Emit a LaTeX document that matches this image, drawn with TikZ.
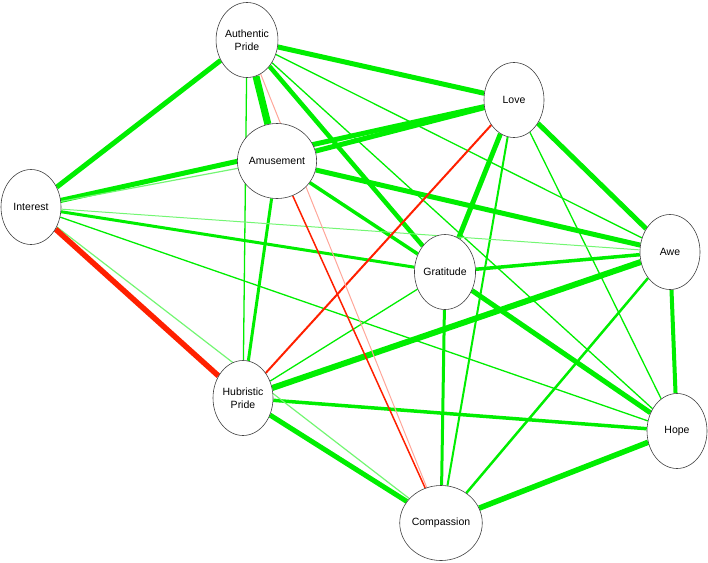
\documentclass[tikz,border=0pt]{standalone}
\usepackage{fontspec}
\setmainfont{Liberation Sans}
\usepackage{xcolor}
\usepackage{tikz}
\usetikzlibrary{shapes.geometric, backgrounds}
\definecolor{posgreen}{RGB}{0,238,0}
\definecolor{negred}{RGB}{255,32,0}

\begin{document}
\begin{tikzpicture}[
  x=1pt, y=-1pt,
  emotion/.style={ellipse, draw=black!75, line width=0.6pt, fill=white, minimum width=60pt, minimum height=75pt, inner sep=0pt, align=center, font=\fontsize{10.5}{13}\selectfont},
  pos/.style={draw=posgreen, line width=#1},
  poslight/.style={draw=posgreen!55, line width=#1},
  neg/.style={draw=negred, line width=#1},
  neglight/.style={draw=negred!40, line width=#1}
]
\useasboundingbox (0,0) rectangle (708,562);
\node[emotion] (AP)   at (247,40)  {Authentic\\Pride};
\node[emotion] (Amu)  at (277,161) {Amusement};
\node[emotion] (Love) at (514,100) {Love};
\node[emotion] (Int)  at (31,207)  {Interest};
\node[emotion] (Grat) at (445,272) {Gratitude};
\node[emotion] (Awe)  at (670,252) {Awe};
\node[emotion] (HP)   at (243,398) {Hubristic\\Pride};
\node[emotion] (Comp) at (441,523) {Compassion};
\node[emotion] (Hope) at (677,431) {Hope};
\begin{pgfonlayer}{background}
% positive edges
\draw[pos=7pt] (AP) -- (Amu);
\draw[pos=5pt] (AP) -- (Int);
\draw[pos=5pt] (AP) -- (Love);
\draw[pos=4.5pt] (AP) -- (Grat);
\draw[pos=5pt] (Int.center) -- (Love);
\draw[pos=5pt] (Amu) -- (Love);
\draw[pos=5pt] (Love) -- (Grat);
\draw[pos=5pt] (Love) -- (Awe);
\draw[pos=5pt] (Amu) -- (Awe);
\draw[pos=6pt] (Awe) -- (HP);
\draw[pos=5pt] (Grat) -- (Hope);
\draw[pos=5pt] (HP) -- (Comp);
\draw[pos=5.5pt] (Comp) -- (Hope);
\draw[pos=4pt] (Awe) -- (Hope);
\draw[pos=3.5pt] (Amu) -- (Grat);
\draw[pos=3pt] (Int) -- (Grat);
\draw[pos=3.5pt] (Grat) -- (Awe);
\draw[pos=3pt] (Amu) -- (HP);
\draw[pos=3pt] (Grat) -- (Comp);
\draw[pos=3.5pt] (HP) -- (Hope);
\draw[pos=2.5pt] (Awe) -- (Comp);
\draw[pos=2pt] (Love) -- (Comp);
\draw[pos=1.3pt] (AP) -- (HP);
\draw[pos=1.3pt] (AP) -- (Awe);
\draw[pos=1.3pt] (AP) -- (Hope);
\draw[pos=1.3pt] (Int) -- (Hope);
\draw[pos=1.3pt] (Love) -- (Hope);
\draw[pos=1.3pt] (Grat) -- (HP);
\draw[poslight=1.2pt] (Int) -- (Comp.center);
\draw[poslight=1.2pt] (Int) -- (Amu);
\draw[poslight=1pt] (Int) -- (Awe);
% negative edges
\draw[neg=5.5pt] (Int) -- (HP);
\draw[neg=2pt] (Love) -- (HP);
\draw[neg=1.5pt] (Amu) -- (Comp);
\draw[neglight=1pt] (AP) -- (Comp);
\end{pgfonlayer}
\end{tikzpicture}
\end{document}
